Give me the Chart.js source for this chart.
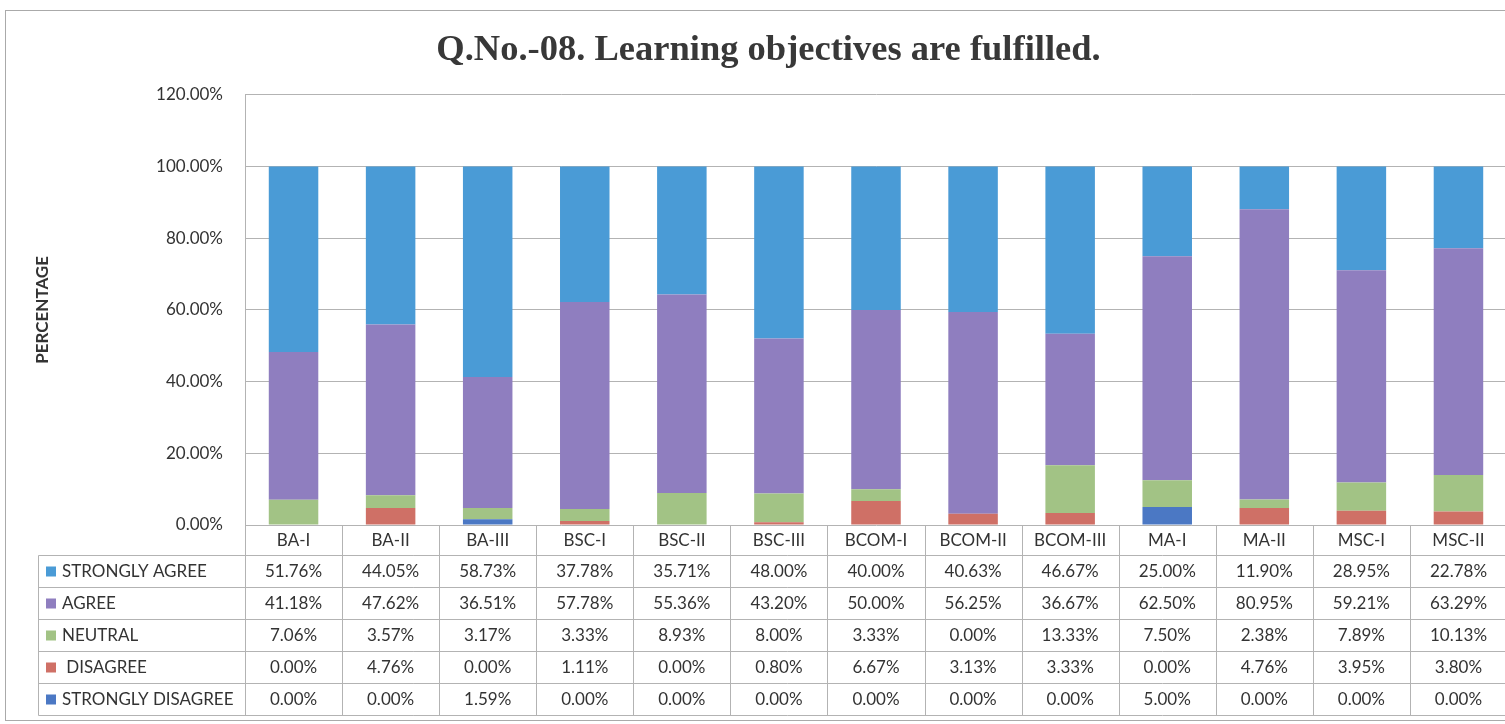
<!DOCTYPE html>
<html>
<head>
<meta charset="utf-8">
<title>Q.No.-08</title>
<script src="https://cdn.jsdelivr.net/npm/chart.js@4.4.1/dist/chart.umd.min.js"></script>
<style>
  html, body { margin: 0; padding: 0; background: #fff; overflow: hidden; }
  #wrap { width: 1537px; height: 724px; }
</style>
</head>
<body>
<div id="wrap"><canvas id="qChart" width="1537" height="724"></canvas></div>
<script>
// data
var categories = ['BA-I', 'BA-II', 'BA-III', 'BSC-I', 'BSC-II', 'BSC-III', 'BCOM-I', 'BCOM-II', 'BCOM-III', 'MA-I', 'MA-II', 'MSC-I', 'MSC-II'];
var stronglyAgree = [51.76, 44.05, 58.73, 37.78, 35.71, 48.00, 40.00, 40.63, 46.67, 25.00, 11.90, 28.95, 22.78];
var agree = [41.18, 47.62, 36.51, 57.78, 55.36, 43.20, 50.00, 56.25, 36.67, 62.50, 80.95, 59.21, 63.29];
var neutral = [7.06, 3.57, 3.17, 3.33, 8.93, 8.00, 3.33, 0.00, 13.33, 7.50, 2.38, 7.89, 10.13];
var disagree = [0.00, 4.76, 0.00, 1.11, 0.00, 0.80, 6.67, 3.13, 3.33, 0.00, 4.76, 3.95, 3.80];
var stronglyDisagree = [0.00, 0.00, 1.59, 0.00, 0.00, 0.00, 0.00, 0.00, 0.00, 5.00, 0.00, 0.00, 0.00];
var yTicks = [0, 20, 40, 60, 80, 100, 120];

var lineGrey = '#b3b3b3';
var textDark = '#333333';

//------------------------------
//- data table under the plot  -
//------------------------------
var dataTable = {
    id: 'dataTable',
    beforeDraw: function (chart) {
        var ctx = chart.ctx;
        ctx.save();
        ctx.fillStyle = '#ffffff';
        ctx.fillRect(0, 0, chart.width, chart.height);
        // outer chart border, runs off the right edge like the scan
        ctx.strokeStyle = '#aaaaaa';
        ctx.lineWidth = 1;
        ctx.strokeRect(5.5, 10.5, chart.width + 20, 710);
        ctx.restore();
    },
    afterDraw: function (chart) {
        var ctx = chart.ctx;
        var xs = chart.scales.x;
        var area = chart.chartArea;
        var colW = (area.right - area.left) / categories.length;
        var top = Math.round(area.bottom) + 0.5;
        var headH = 30;
        var rowH = 32;
        var legendLeft = 38.5;
        var rows = chart.data.datasets.slice().reverse();
        var bottom = top + headH + rowH * rows.length;
        var right = chart.width;

        ctx.save();
        ctx.strokeStyle = lineGrey;
        ctx.lineWidth = 1;
        ctx.beginPath();
        // horizontal rules
        for (var r = 0; r <= rows.length; r++) {
            var y = top + headH + r * rowH;
            ctx.moveTo(legendLeft, y);
            ctx.lineTo(right, y);
        }
        // legend column left edge
        ctx.moveTo(legendLeft, top + headH);
        ctx.lineTo(legendLeft, bottom);
        // column edges
        for (var c = 0; c <= categories.length; c++) {
            var x = Math.round(area.left + c * colW) + 0.5;
            ctx.moveTo(x, top);
            ctx.lineTo(x, bottom);
        }
        ctx.stroke();

        ctx.font = '17px Lato';
        ctx.fillStyle = textDark;
        ctx.textAlign = 'center';
        ctx.textBaseline = 'middle';
        categories.forEach(function (cat, i) {
            ctx.fillText(cat, xs.getPixelForValue(i), top + headH / 2);
        });

        rows.forEach(function (ds, r) {
            var cy = top + headH + r * rowH + rowH / 2;
            ctx.fillStyle = ds.backgroundColor;
            ctx.fillRect(46, cy - 5, 10, 10);
            ctx.fillStyle = textDark;
            ctx.textAlign = 'left';
            ctx.fillText(ds.label, 62, cy);
            ctx.textAlign = 'center';
            ds.data.forEach(function (v, i) {
                ctx.fillText(v.toFixed(2) + '%', xs.getPixelForValue(i), cy);
            });
        });
        ctx.restore();
    }
};

var chart = new Chart(document.getElementById('qChart'), {
    type: 'bar',
    data: {
        labels: categories,
        datasets: [
            { label: 'STRONGLY DISAGREE', data: stronglyDisagree, backgroundColor: '#4b78c4' },
            { label: ' DISAGREE', data: disagree, backgroundColor: '#cf7066' },
            { label: 'NEUTRAL', data: neutral, backgroundColor: '#a2c385' },
            { label: 'AGREE', data: agree, backgroundColor: '#8f7ebf' },
            { label: 'STRONGLY AGREE', data: stronglyAgree, backgroundColor: '#4a9bd6' }
        ]
    },
    options: {
        responsive: false,
        animation: false,
        layout: { padding: { left: 30, right: 30, top: 0, bottom: 199 } },
        datasets: {
            bar: { barPercentage: 0.51, categoryPercentage: 1 }
        },
        plugins: {
            legend: { display: false },
            tooltip: { enabled: false },
            title: {
                display: true,
                text: 'Q.No.-08. Learning objectives are fulfilled.',
                color: '#383838',
                font: { family: 'Liberation Serif', size: 36.5, weight: 'bold' },
                padding: { top: 29, bottom: 22 }
            }
        },
        scales: {
            x: {
                stacked: true,
                display: false
            },
            y: {
                stacked: true,
                min: 0,
                max: 120,
                afterBuildTicks: function (scale) {
                    scale.ticks = yTicks.map(function (v) { return { value: v }; });
                },
                afterFit: function (scale) {
                    scale.width = 215;
                },
                grid: { color: lineGrey, drawTicks: false },
                border: { display: true, color: lineGrey },
                ticks: {
                    padding: 22,
                    color: textDark,
                    font: { family: 'Lato', size: 17 },
                    callback: function (v) { return v.toFixed(2) + '%'; }
                },
                title: {
                    display: true,
                    text: 'PERCENTAGE',
                    color: textDark,
                    font: { family: 'Lato', size: 17, weight: 'bold' },
                    padding: { top: 2, bottom: 0 }
                }
            }
        }
    },
    plugins: [dataTable]
});
</script>
</body>
</html>
